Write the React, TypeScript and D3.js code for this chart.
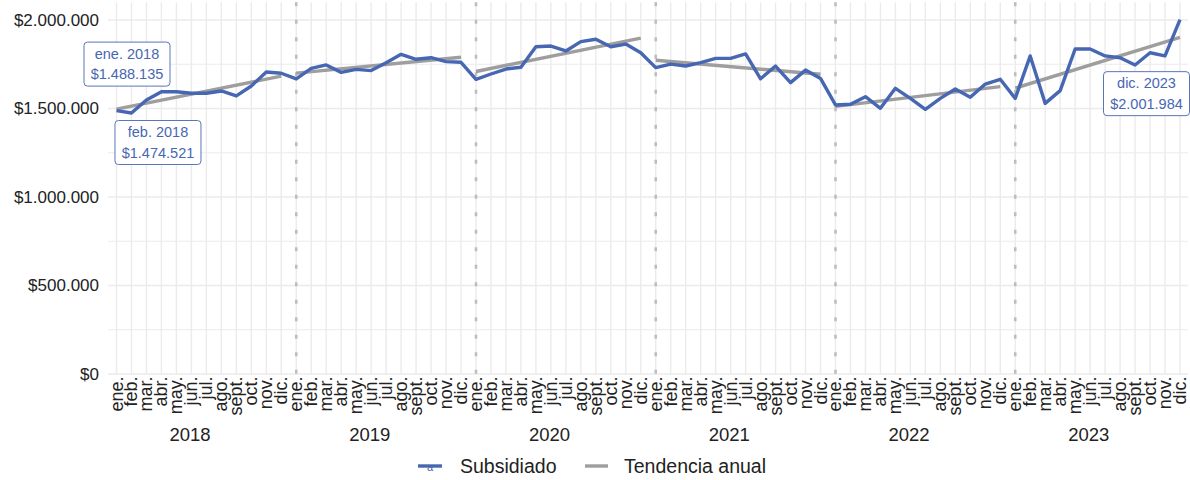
import React from "react";
import * as d3 from "d3";

const years = [2018, 2019, 2020, 2021, 2022, 2023];
const monthLabels = ["ene.", "feb.", "mar.", "abr.", "may.", "jun.", "jul.", "ago.", "sept.", "oct.", "nov.", "dic."];

const v2018 = [1488135, 1474521, 1548000, 1595000, 1595000, 1586000, 1586000, 1599000, 1571000, 1627000, 1706000, 1699000];
const v2019 = [1667000, 1727000, 1746000, 1704000, 1721000, 1714000, 1759000, 1806000, 1778000, 1787000, 1765000, 1761000];
const v2020 = [1665000, 1695000, 1723000, 1733000, 1849000, 1853000, 1825000, 1878000, 1891000, 1849000, 1864000, 1815000];
const v2021 = [1731000, 1751000, 1740000, 1759000, 1783000, 1783000, 1808000, 1668000, 1740000, 1646000, 1717000, 1670000];
const v2022 = [1520000, 1524000, 1567000, 1501000, 1614000, 1557000, 1495000, 1557000, 1610000, 1563000, 1638000, 1665000];
const v2023 = [1557000, 1797000, 1529000, 1601000, 1836000, 1836000, 1797000, 1787000, 1746000, 1815000, 1797000, 2001984];

const seriesByYear = [v2018, v2019, v2020, v2021, v2022, v2023];
const yTicks = [0, 500000, 1000000, 1500000, 2000000];
const yMinor = [250000, 750000, 1250000, 1750000];

const labelPoints = [
  { year: 2018, month: 0, dx: 10.5, dy: -46.5 },
  { year: 2018, month: 1, dx: 26.5, dy: 29.5 },
  { year: 2023, month: 11, dx: -33.5, dy: 74 },
];

const BLUE = "#4767B2";
const GREY = "#9E9E9E";
const FONT = "'Liberation Sans', Arial, Helvetica, sans-serif";

type Pt = { year: number; month: number; idx: number; value: number };

const data: Pt[] = [];
seriesByYear.forEach((arr, yi) =>
  arr.forEach((v, m) => data.push({ year: years[yi], month: m, idx: yi * 12 + m, value: v }))
);

const fmt = (v: number) => "$" + d3.format(",")(Math.round(v)).replace(/,/g, ".");

export default function App() {
  const W = 1190, H = 480;
  const panelLeft = 108, panelRight = 1188;
  const x = d3.scaleLinear().domain([0, 71]).range([116.5, 1180]);
  const y = d3.scaleLinear().domain([0, 2000000]).range([374, 20]);
  const panelTop = y(2100000), panelBottom = y(0);

  const line = d3.line<Pt>().x((d) => x(d.idx)).y((d) => y(d.value));

  const trends = years.map((yr, yi) => {
    const pts = data.filter((d) => d.year === yr);
    const mx = d3.mean(pts, (d) => d.month)!;
    const my = d3.mean(pts, (d) => d.value)!;
    const sxy = d3.sum(pts, (d) => (d.month - mx) * (d.value - my));
    const sxx = d3.sum(pts, (d) => (d.month - mx) ** 2);
    const b = sxy / sxx;
    const a = my - b * mx;
    return [
      { x: x(yi * 12), y: y(a) },
      { x: x(yi * 12 + 11), y: y(a + b * 11) },
    ];
  });

  return (
    <svg width={W} height={H} style={{ position: "absolute", left: 0, top: 0, display: "block", fontFamily: FONT }}>
      <rect x={0} y={0} width={W} height={H} fill="#fff" />
      {/* grid */}
      {yMinor.map((t) => (
        <line key={"mi" + t} x1={panelLeft} x2={panelRight} y1={y(t)} y2={y(t)} stroke="#EBEBEB" strokeWidth={1.2} />
      ))}
      {yTicks.map((t) => (
        <line key={"ma" + t} x1={panelLeft} x2={panelRight} y1={y(t)} y2={y(t)} stroke="#EBEBEB" strokeWidth={1.4} />
      ))}
      {data.map((d) => (
        <line key={"vg" + d.idx} x1={x(d.idx)} x2={x(d.idx)} y1={panelTop} y2={panelBottom} stroke="#EBEBEB" strokeWidth={1.4} />
      ))}
      {/* year dividers */}
      {years.slice(1).map((yr, i) => (
        <line key={"yd" + yr} x1={x((i + 1) * 12)} x2={x((i + 1) * 12)} y1={panelTop} y2={panelBottom}
          stroke="#BDBDBD" strokeWidth={2.6} strokeDasharray="4 13.5" />
      ))}
      {/* trend */}
      {trends.map((t, i) => (
        <line key={"tr" + i} x1={t[0].x} y1={t[0].y} x2={t[1].x} y2={t[1].y} stroke={GREY} strokeWidth={3.4} />
      ))}
      {/* series */}
      <path d={line(data) || ""} fill="none" stroke={BLUE} strokeWidth={3.4} strokeLinejoin="round" />
      {/* labels */}
      {labelPoints.map((lp, i) => {
        const p = data.find((d) => d.year === lp.year && d.month === lp.month)!;
        const cx = x(p.idx) + lp.dx, cy = y(p.value) + lp.dy;
        const w = 86, h = 44;
        return (
          <g key={"lb" + i}>
            <rect x={cx - w / 2} y={cy - h / 2} width={w} height={h} rx={3.5} fill="#fff" stroke={BLUE} strokeWidth={0.9} />
            <text x={cx} y={cy - 10.5} textAnchor="middle" dominantBaseline="central" fontSize={14.5} fill={BLUE}>
              {monthLabels[lp.month] + " " + lp.year}
            </text>
            <text x={cx} y={cy + 10} textAnchor="middle" dominantBaseline="central" fontSize={14.5} fill={BLUE}>
              {fmt(p.value)}
            </text>
          </g>
        );
      })}
      {/* y axis labels */}
      {yTicks.map((t) => (
        <text key={"yl" + t} x={99} y={y(t)} textAnchor="end" dominantBaseline="central" fontSize={17} fill="#222">
          {fmt(t)}
        </text>
      ))}
      {/* x month labels */}
      {data.map((d) => (
        <text key={"xl" + d.idx} transform={`translate(${x(d.idx)},${panelBottom + 2.5}) rotate(-90)`}
          textAnchor="end" dominantBaseline="central" fontSize={18} fill="#222">
          {monthLabels[d.month]}
        </text>
      ))}
      {/* year labels */}
      {years.map((yr, i) => (
        <text key={"yr" + yr} x={x(i * 12) + 73.5} y={441} textAnchor="middle" fontSize={18.5} fill="#222">
          {yr}
        </text>
      ))}
      {/* legend */}
      <g>
        <line x1={418} x2={442} y1={466} y2={466} stroke={BLUE} strokeWidth={3.4} />
        <text x={430} y={471} textAnchor="middle" fontSize={11} fill={BLUE}>a</text>
        <text x={460} y={466} dominantBaseline="central" fontSize={19.5} fill="#222">Subsidiado</text>
        <line x1={585} x2={608} y1={466} y2={466} stroke={GREY} strokeWidth={3.4} />
        <text x={624} y={466} dominantBaseline="central" fontSize={19.5} fill="#222">Tendencia anual</text>
      </g>
    </svg>
  );
}
